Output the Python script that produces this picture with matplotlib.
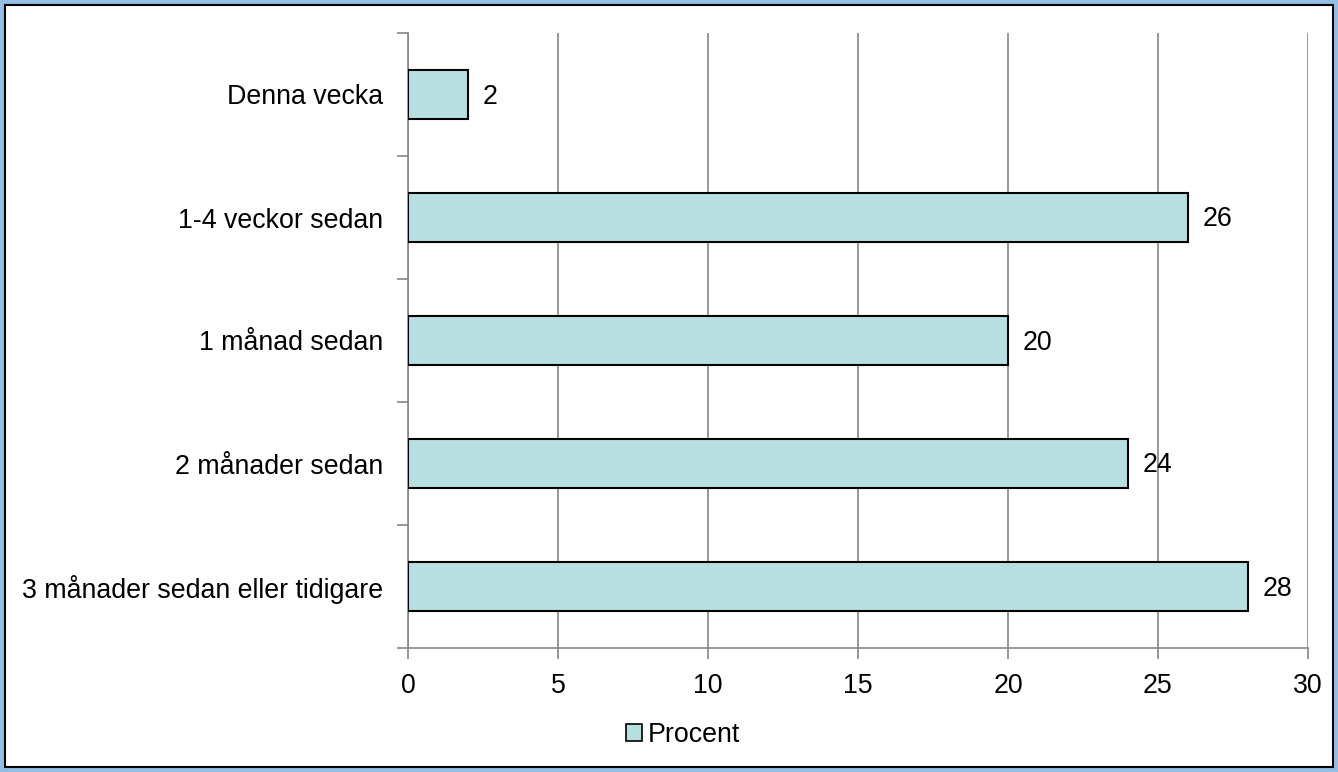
import matplotlib
matplotlib.use("Agg")
import matplotlib.pyplot as plt
from matplotlib.patches import Rectangle, Patch

plt.rcParams['font.family'] = ['Liberation Sans', 'DejaVu Sans']

categories = ['Denna vecka', '1-4 veckor sedan', '1 månad sedan',
              '2 månader sedan', '3 månader sedan eller tidigare']
values = [2, 26, 20, 24, 28]
xticks = [0, 5, 10, 15, 20, 25, 30]
series_name = 'Procent'

bar_color = '#B7DFE1'
grid_color = '#868686'
fs = 19.3

fig = plt.figure(figsize=(13.38, 7.72), dpi=100)
fig.patch.set_facecolor('#94BEE4')
# white chart area with thin black frame
fig.patches.append(Rectangle((5 / 1338, 5 / 772), 1328 / 1338, 762 / 772,
                             transform=fig.transFigure, facecolor='white',
                             edgecolor='black', linewidth=1.5, zorder=-5))

ax = fig.add_axes([408 / 1338, 124 / 772, 900 / 1338, 615 / 772])
ax.set_facecolor('none')
ax.set_zorder(2)

pos = list(range(len(categories)))
bars = ax.barh(pos, values, height=0.4, color=bar_color, edgecolor='black',
               linewidth=1.5, zorder=3)
for b, v in zip(bars, values):
    ax.annotate(str(v), (b.get_width(), b.get_y() + b.get_height() / 2),
                xytext=(15, -2), textcoords='offset pixels',
                va='center', ha='left', fontsize=fs, zorder=4)

ax.set_xlim(0, 30)
ax.set_ylim(len(categories) - 0.5, -0.5)
ax.set_xticks(xticks)
ax.set_xticklabels([str(t) for t in xticks], fontsize=fs)
ax.set_yticks(pos)
ax.set_yticklabels(categories, fontsize=fs)
ax.tick_params(axis='y', length=0, pad=18)
for lab in ax.get_yticklabels():
    lab.set_y(lab.get_position()[1])
ax.set_yticks([p - 0.5 for p in pos] + [len(categories) - 0.5], minor=True)
ax.tick_params(axis='y', which='minor', length=8, color=grid_color, width=1.2)
ax.tick_params(axis='x', length=8, color=grid_color, width=1.2, pad=10)

ax.grid(axis='x', color=grid_color, linewidth=1.2, zorder=0)
ax.set_axisbelow(True)
for s in ['top', 'right']:
    ax.spines[s].set_visible(False)
for s in ['left', 'bottom']:
    ax.spines[s].set_color(grid_color)
    ax.spines[s].set_linewidth(1.2)

handle = Patch(facecolor=bar_color, edgecolor='black', linewidth=1.2)
fig.legend([handle], [series_name], loc='center', bbox_to_anchor=(683 / 1338, 1 - 735 / 772),
           frameon=False, fontsize=fs, handlelength=0.6, handleheight=0.6,
           handletextpad=0.2)

fig.savefig('out.png', dpi=100)
